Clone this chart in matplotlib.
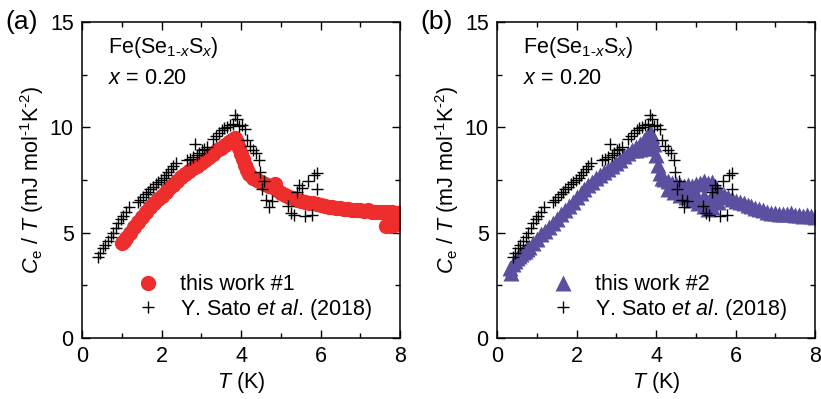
import numpy as np
import matplotlib
matplotlib.use("Agg")
import matplotlib.pyplot as plt
from matplotlib.ticker import MultipleLocator

plt.rcParams['font.family'] = ['Liberation Sans', 'DejaVu Sans']
plt.rcParams['mathtext.fontset'] = 'custom'
plt.rcParams['mathtext.rm'] = 'Liberation Sans'
plt.rcParams['mathtext.it'] = 'Liberation Sans:italic'
plt.rcParams['font.size'] = 15.5

# Y. Sato et al. (2018) data, same in both panels
sato_T = [0.40, 0.46, 0.52, 0.58, 0.65, 0.72, 0.79, 0.85, 0.91, 0.98, 1.04, 1.10, 1.17,
          1.40, 1.46, 1.53, 1.60, 1.66, 1.72, 1.78, 1.85, 1.92, 1.98, 2.05, 2.11, 2.17,
          2.24, 2.30, 2.37, 2.65, 2.72, 2.78, 2.84, 2.89, 2.95, 3.01, 3.07, 3.14, 3.30,
          3.37, 3.44, 3.51, 3.58, 3.65, 3.72, 3.80, 3.86, 3.89, 3.95, 4.02, 4.10, 4.16,
          4.23, 4.30, 4.37, 4.44, 4.48, 4.52, 4.58, 4.64, 4.70, 4.77, 5.19, 5.26, 5.32,
          5.40, 5.47, 5.54, 5.61, 5.69, 5.78, 5.83, 5.90, 5.90]
sato_C = [3.85, 4.05, 4.25, 4.40, 4.60, 4.80, 5.00, 5.20, 5.45, 5.65, 5.80, 6.00, 6.20,
          6.45, 6.55, 6.70, 6.85, 6.95, 7.05, 7.15, 7.30, 7.40, 7.50, 7.60, 7.75, 7.90,
          8.00, 8.15, 8.30, 8.45, 8.50, 8.60, 9.20, 8.70, 8.80, 8.90, 8.95, 9.05, 9.45,
          9.60, 9.75, 9.85, 9.95, 10.00, 10.10, 10.15, 10.60, 10.40, 10.05, 10.10, 9.90, 9.40,
          9.10, 8.90, 8.80, 8.45, 7.90, 7.05, 7.45, 6.55, 6.20, 6.50, 6.25, 5.95, 5.85,
          6.95, 7.25, 7.10, 5.80, 7.45, 5.85, 7.75, 7.85, 7.05]

# this work #1 (panel a)
work1_T = [1.00, 1.05, 1.10, 1.20, 1.30, 1.40, 1.50, 1.60, 1.70, 1.80, 1.90, 2.00, 2.10,
           2.20, 2.30, 2.40, 2.50, 2.60, 2.70, 2.80, 2.90, 3.00, 3.10, 3.20, 3.30, 3.40,
           3.50, 3.60, 3.70, 3.78, 3.85, 3.90, 3.95, 4.00, 4.05, 4.10, 4.15, 4.20, 4.30,
           4.40, 4.50, 4.60, 4.70, 4.80, 4.85, 4.90, 5.00, 5.10, 5.20, 5.30, 5.40, 5.50,
           5.60, 5.70, 5.80, 5.90, 6.00, 6.10, 6.20, 6.30, 6.40, 6.50, 6.60, 6.70, 6.80,
           6.90, 7.00, 7.10, 7.20, 7.30, 7.40, 7.50, 7.60, 7.70, 7.80, 7.90, 7.96, 8.00,
           7.98, 7.92, 7.85, 7.75, 7.65]
work1_C = [4.50, 4.62, 4.75, 5.00, 5.25, 5.50, 5.75, 6.00, 6.20, 6.40, 6.58, 6.75, 6.92,
           7.10, 7.28, 7.45, 7.62, 7.78, 7.92, 8.05, 8.18, 8.32, 8.45, 8.60, 8.75, 8.90,
           9.02, 9.15, 9.28, 9.40, 9.50, 9.30, 9.00, 8.75, 8.50, 8.20, 7.95, 7.80, 7.60,
           7.48, 7.40, 7.30, 7.22, 7.15, 7.30, 7.00, 6.90, 6.80, 6.70, 6.62, 6.55, 6.50,
           6.45, 6.42, 6.40, 6.35, 6.30, 6.25, 6.20, 6.22, 6.18, 6.15, 6.12, 6.10, 6.08,
           6.05, 6.05, 6.02, 6.05, 6.00, 5.98, 6.00, 5.98, 6.00, 5.98, 5.95, 5.95, 5.85,
           5.65, 5.45, 5.35, 5.30, 5.32]

# this work #2 (panel b)
work2_T = [0.33, 0.36, 0.40, 0.45, 0.50, 0.55, 0.60, 0.65, 0.70, 0.75, 0.80, 0.90, 1.00,
           1.10, 1.20, 1.30, 1.40, 1.50, 1.60, 1.70, 1.80, 1.90, 2.00, 2.10, 2.20, 2.30,
           2.40, 2.50, 2.60, 2.70, 2.80, 2.90, 3.00, 3.10, 3.20, 3.30, 3.40, 3.50, 3.60,
           3.70, 3.78, 3.85, 3.90, 3.95, 4.00, 4.05, 4.10, 4.20, 4.30, 4.40, 4.50, 4.60,
           4.70, 4.80, 4.90, 5.00, 5.10, 5.20, 5.30, 5.40, 5.50, 5.60, 5.70, 5.80, 5.90,
           6.00, 6.10, 6.20, 6.30, 6.40, 6.50, 6.60, 6.70, 6.80, 6.90, 7.00, 7.10, 7.20,
           7.30, 7.40, 7.50, 7.60, 7.70, 7.80, 7.90, 8.00,
           3.50, 3.60, 3.70, 3.80, 4.15, 4.30, 4.45, 4.60, 4.75, 4.90, 5.05, 5.20, 5.30,
           5.40, 5.55, 4.40, 4.60, 4.80, 5.00, 5.20, 5.40]
work2_C = [3.30, 3.10, 3.50, 3.65, 3.80, 3.88, 3.97, 4.06, 4.15, 4.24, 4.33, 4.52, 4.72,
           4.92, 5.10, 5.28, 5.47, 5.67, 5.87, 6.07, 6.27, 6.47, 6.67, 6.87, 7.06, 7.24,
           7.41, 7.57, 7.72, 7.87, 8.02, 8.17, 8.32, 8.47, 8.62, 8.77, 8.92, 9.07, 9.22,
           9.38, 9.58, 9.80, 9.60, 9.20, 8.70, 8.20, 7.85, 7.55, 7.45, 7.35, 7.30, 7.25,
           7.20, 7.25, 7.20, 7.30, 7.35, 7.45, 7.35, 7.40, 7.10, 6.90, 6.80, 6.70, 6.60,
           6.50, 6.45, 6.40, 6.30, 6.25, 6.15, 6.10, 6.05, 6.00, 5.95, 5.95, 5.90, 5.90,
           5.88, 5.95, 5.85, 5.82, 5.80, 5.85, 5.80, 5.75,
           8.90, 8.95, 9.00, 9.00, 7.60, 7.05, 6.95, 6.80, 6.70, 6.55, 6.40, 6.25, 6.10,
           6.20, 6.45, 7.15, 7.05, 6.95, 6.85, 6.75, 6.80]

red = '#ee2d2d'
purple = '#5b50a0'
ylab = r'$C_\mathrm{e}$ / $T$ (mJ mol$^{\text{-}1}$K$^{\text{-}2}$)'
comp = 'Fe(Se$_{\\text{1-}x}$S$_{x}$)\n$x$ = 0.20'

fig = plt.figure(figsize=(8.21, 3.99), dpi=100)
ax1 = fig.add_axes([0.0999, 0.153, 0.3874, 0.792])
ax2 = fig.add_axes([0.6054, 0.153, 0.3874, 0.792])

panels = [(ax1, work1_T, work1_C, 'o', 11, red, 'this work #1', '(a)', 0.006),
          (ax2, work2_T, work2_C, '^', 12, purple, 'this work #2', '(b)', 0.512)]

for ax, T, C, mk, ms, col, lab, tag, tx in panels:
    ax.plot(T, C, ls='none', marker=mk, ms=ms, color=col, mec='none', label=lab)
    ax.plot(sato_T, sato_C, ls='none', marker='+', ms=8.5, mew=1.0, color='black',
            label='Y. Sato $et$ $al$. (2018)')
    ax.set_xlim(0, 8)
    ax.set_ylim(0, 15)
    ax.xaxis.set_major_locator(MultipleLocator(2))
    ax.xaxis.set_minor_locator(MultipleLocator(1))
    ax.yaxis.set_major_locator(MultipleLocator(5))
    ax.yaxis.set_minor_locator(MultipleLocator(2.5))
    ax.tick_params(which='both', direction='in', top=True, right=True, width=1.0)
    ax.tick_params(which='major', length=6, pad=6)
    ax.tick_params(which='minor', length=3.5)
    for s in ax.spines.values():
        s.set_linewidth(1.1)
    ax.set_xlabel('$T$ (K)', labelpad=2)
    ax.set_ylabel(ylab, labelpad=3)
    ax.text(0.65, 13.1, comp, va='center', ha='left', linespacing=1.45)
    ax.legend(loc='lower left', bbox_to_anchor=(0.175, 0.052), frameon=False,
              handlelength=1.0, handletextpad=0.95, borderpad=0, borderaxespad=0,
              labelspacing=0.05, markerscale=1.0)
    fig.text(tx, 0.945, tag, fontsize=19, va='center', ha='left')

fig.savefig('out.png', dpi=100)
